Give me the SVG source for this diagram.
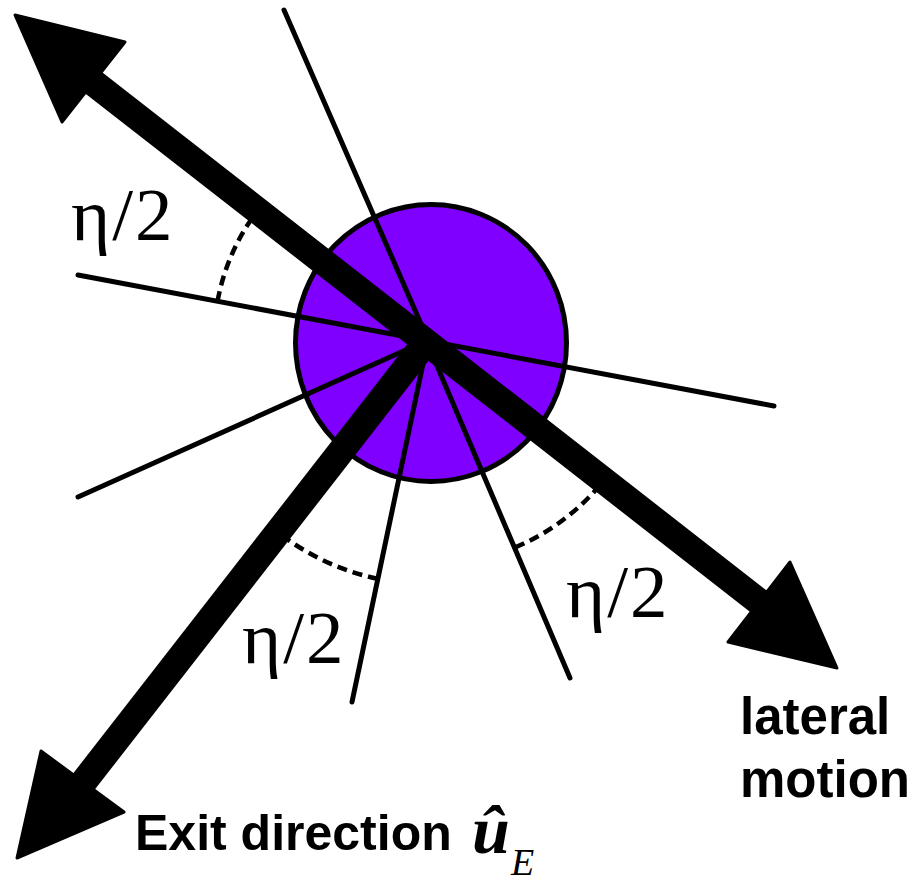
<svg xmlns="http://www.w3.org/2000/svg" width="921" height="882" viewBox="0 0 921 882">
<style>
.bg{fill:#ffffff}
.particle{fill:#8000ff;stroke:#000;stroke-width:5}
.thin{stroke:#000;stroke-width:5;stroke-linecap:round;fill:none}
.shaft{stroke:#000;stroke-width:27;stroke-linecap:butt;fill:none}
.head{fill:#000;stroke:#000;stroke-width:3;stroke-linejoin:round}
.arc{stroke:#000;stroke-width:4.5;fill:none;stroke-dasharray:10 6}
.eta{font-family:"Liberation Serif","Times New Roman",serif;font-size:75px;letter-spacing:2px;fill:#000}
.lbl{font-family:"Liberation Sans",Arial,sans-serif;font-weight:bold;fill:#000}
.math{font-family:"Liberation Serif","Times New Roman",serif;fill:#000}
</style>
<rect class="bg" x="0" y="0" width="921" height="882"/>
<g id="particle">
<ellipse class="particle" cx="431" cy="343" rx="135.5" ry="138.5"/>
</g>
<g id="connectors">
<g id="angle-arcs">
<path class="arc" d="M217.6,301 A214,214 0 0 1 259.8,207.7"/>
<path class="arc" d="M377.7,578.8 A244,244 0 0 1 276.5,531.2"/>
<path class="arc" d="M515.2,547.4 A225,225 0 0 0 603.6,480.7"/>
</g>
<g id="rays">
<line class="thin" x1="284" y1="10" x2="428" y2="340"/>
<line class="thin" x1="78" y1="275" x2="774" y2="406"/>
<line class="thin" x1="78" y1="497" x2="428" y2="340"/>
<line class="thin" x1="352" y1="702" x2="428" y2="340"/>
<line class="thin" x1="570" y1="678" x2="426" y2="340"/>
</g>
<g id="lateral-axis">
<line class="shaft" x1="90" y1="80" x2="762" y2="604"/>
<polygon class="head" points="15,15 125,42 62,122"/>
<polygon class="head" points="837,668 790,562 728,642"/>
</g>
<g id="exit-arrow">
<line class="shaft" x1="82" y1="784" x2="430" y2="337"/>
<polygon class="head" points="17,858 41,751 124,812"/>
</g>
</g>
<g id="labels">
<text class="eta" x="71" y="240">η/2</text>
<text class="eta" x="242" y="663">η/2</text>
<text class="eta" x="566" y="617">η/2</text>
<text class="lbl" x="135" y="850" font-size="50">Exit direction</text>
<text class="math" x="472" y="853" font-size="68" font-weight="bold" font-style="italic">û</text>
<text class="math" x="511" y="875" font-size="38" font-style="italic">E</text>
<text class="lbl" x="740" y="734" font-size="51">lateral</text>
<text class="lbl" x="740" y="797" font-size="51">motion</text>
</g>
</svg>
